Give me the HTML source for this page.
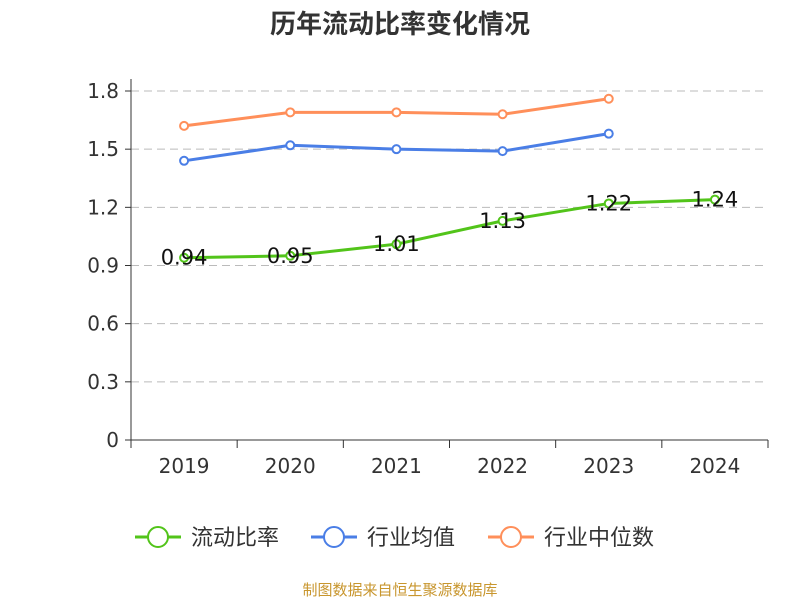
<!DOCTYPE html>
<html><head><meta charset="utf-8"><style>
body{margin:0;background:#fff;font-family:"Liberation Sans","Noto Sans CJK SC",sans-serif;}
</style></head><body>
<svg id="c" width="800" height="600" xmlns="http://www.w3.org/2000/svg" style="font-family:'DejaVu Sans','Noto Sans CJK SC',sans-serif">
<text x="400" y="33" text-anchor="middle" font-size="26" font-weight="bold" fill="#333">历年流动比率变化情况</text>
<g id="grid"></g><g id="axes"></g><g id="series"></g><g id="legend"></g>
<text x="400" y="595" text-anchor="middle" font-size="15" fill="#c8962e">制图数据来自恒生聚源数据库</text>
</svg>
<script>
const categories=["2019","2020","2021","2022","2023","2024"];
const ratio=[0.94,0.95,1.01,1.13,1.22,1.24];
const industryAvg=[1.44,1.52,1.50,1.49,1.58,null];
const industryMedian=[1.62,1.69,1.69,1.68,1.76,null];
const yTicks=[0,0.3,0.6,0.9,1.2,1.5,1.8];
const yTickLabels=["0","0.3","0.6","0.9","1.2","1.5","1.8"];
const seriesNames=["流动比率","行业均值","行业中位数"];
const L=131,R=768,T=91,B=440,yMax=1.8;
const bw=(R-L)/categories.length;
const xs=i=>L+bw*(i+0.5);
const ys=v=>B-(v/yMax)*(B-T);
const NS="http://www.w3.org/2000/svg";
function mk(tag,attrs,parent,txt){const e=document.createElementNS(NS,tag);for(const k in attrs)e.setAttribute(k,attrs[k]);if(txt!==undefined)e.textContent=txt;document.getElementById(parent).appendChild(e);return e;}
yTicks.forEach((t,i)=>{
  if(t>0){const g=mk('line',{x1:L,x2:R,y1:ys(t),y2:ys(t),stroke:'#bbb','stroke-dasharray':'8,5'},'grid');
  
  }
  const tk=mk('line',{x1:L-6,x2:L,y1:ys(t),y2:ys(t),stroke:'#333'},'axes');
  
  
  const lb=mk('text',{x:L-12,y:ys(t)+7,'text-anchor':'end','font-size':20,fill:'#333'},'axes',yTickLabels[i]);
  
  
});
const ya=mk('line',{x1:L,x2:L,y1:T-12,y2:B,stroke:'#333'},'axes');


const xa=mk('line',{x1:L,x2:R,y1:B,y2:B,stroke:'#333'},'axes');


for(let i=0;i<=categories.length;i++){const t=mk('line',{x1:L+bw*i,x2:L+bw*i,y1:B,y2:B+8,stroke:'#333'},'axes');

}
categories.forEach((c,i)=>{const t=mk('text',{x:xs(i),y:B+33,'text-anchor':'middle','font-size':20,fill:'#333'},'axes',c);

});
const colors=["#52c41a","#4a7ee6","#ff8f5a"];
[ratio,industryAvg,industryMedian].forEach((d,s)=>{
  let p='';d.forEach((v,i)=>{if(v!=null)p+=(p?'L':'M')+xs(i)+','+ys(v);});
  const pl=mk('path',{d:p,fill:'none',stroke:colors[s],'stroke-width':3},'series');
  
  
  d.forEach((v,i)=>{if(v==null)return;
    const c=mk('circle',{cx:xs(i),cy:ys(v),r:4,fill:'#fff',stroke:colors[s],'stroke-width':2},'series');
    
    
    if(s===0){const t=mk('text',{x:xs(i),y:ys(v)+7,'text-anchor':'middle','font-size':21,fill:'#111'},'series',v.toFixed(2));
    
    }
  });
});
const lx=[135,311,488];
seriesNames.forEach((n,i)=>{
  const l=mk('line',{x1:lx[i],x2:lx[i]+46,y1:537,y2:537,stroke:colors[i],'stroke-width':3},'legend');
  
  
  const c=mk('circle',{cx:lx[i]+23,cy:537,r:10,fill:'#fff',stroke:colors[i],'stroke-width':2},'legend');
  
  
  const t=mk('text',{x:lx[i]+56,y:545,'font-size':22,fill:'#333'},'legend',n);
  
  
});
</script>
</body></html>
